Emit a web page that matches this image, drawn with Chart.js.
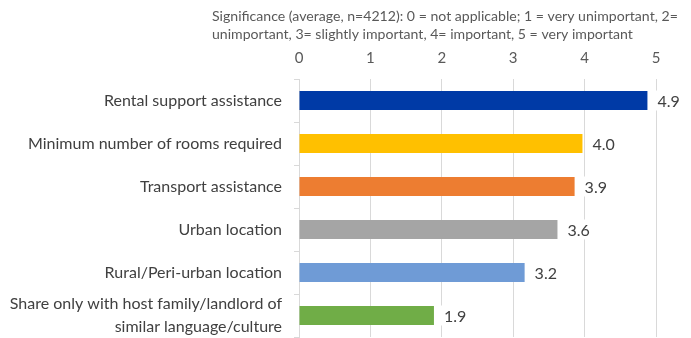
<!DOCTYPE html>
<html>
<head>
<meta charset="utf-8">
<script src="https://cdn.jsdelivr.net/npm/chart.js@4.4.1/dist/chart.umd.min.js"></script>
<style>
  html, body { margin: 0; padding: 0; background: #fff; }
  #wrap { width: 691px; height: 338px; }
</style>
</head>
<body>
<div id="wrap"><canvas id="c" width="691" height="338"></canvas></div>
<script>
// Criteria and their average significance scores
const categories = [
  "Rental support assistance",
  "Minimum number of rooms required",
  "Transport assistance",
  "Urban location",
  "Rural/Peri-urban location",
  ["Share only with host family/landlord of", "similar language/culture"]
];
const scores = [4.88, 3.97, 3.86, 3.62, 3.16, 1.89];
const barColors = ["#003AA6", "#FFC000", "#ED7D31", "#A5A5A5", "#6F9BD6", "#70AD47"];
const xTicks = [0, 1, 2, 3, 4, 5];
const titleLines = [
  "Significance (average, n=4212): 0 = not applicable; 1 = very unimportant, 2=",
  "unimportant, 3= slightly important, 4= important, 5 = very important"
];

const FONT = "Lato, 'Open Sans', sans-serif";

// Two-line, left-aligned heading above the value axis
const headingPlugin = {
  id: "heading",
  afterDraw(chart) {
    const ctx = chart.ctx;
    ctx.save();
    ctx.font = "14.1px " + FONT;
    ctx.fillStyle = "#595959";
    ctx.textAlign = "left";
    ctx.textBaseline = "middle";
    titleLines.forEach((line, i) => ctx.fillText(line, 212, 16 + i * 18));
    ctx.restore();
  }
};

// Value labels just past the end of each bar, on a white box
const valueLabelPlugin = {
  id: "valueLabels",
  afterDatasetsDraw(chart) {
    const ctx = chart.ctx;
    const meta = chart.getDatasetMeta(0);
    ctx.save();
    ctx.font = "16px " + FONT;
    ctx.textAlign = "left";
    ctx.textBaseline = "middle";
    meta.data.forEach((bar, i) => {
      const text = scores[i].toFixed(1);
      const x = bar.x + 10;
      const w = ctx.measureText(text).width;
      ctx.fillStyle = "#ffffff";
      ctx.fillRect(x - 3, bar.y - 10, w + 6, 20);
      ctx.fillStyle = "#404040";
      ctx.fillText(text, x, bar.y + 1);
    });
    ctx.restore();
  }
};

new Chart(document.getElementById("c"), {
  type: "bar",
  data: {
    labels: categories,
    datasets: [{
      data: scores,
      backgroundColor: barColors,
      borderWidth: 0,
      categoryPercentage: 1,
      barPercentage: 0.44
    }]
  },
  options: {
    indexAxis: "y",
    responsive: false,
    animation: false,
    devicePixelRatio: 1,
    layout: { padding: { top: 37, right: 35, bottom: 1, left: 0 } },
    plugins: {
      legend: { display: false },
      tooltip: { enabled: false }
    },
    scales: {
      x: {
        position: "top",
        min: 0,
        max: 5,
        afterBuildTicks(scale) { scale.ticks = xTicks.map(v => ({ value: v })); },
        grid: { color: "#D9D9D9", lineWidth: 1, drawTicks: false },
        border: { display: false },
        ticks: {
          padding: 12,
          color: "#595959",
          font: { family: FONT, size: 15 }
        }
      },
      y: {
        afterFit(scale) {
          scale.width = 299;
          scale.paddingTop = 0;
          scale.paddingBottom = 0;
        },
        grid: {
          offset: true,
          drawOnChartArea: false,
          drawTicks: true,
          tickLength: 5,
          color: "#D9D9D9"
        },
        border: { display: true, color: "#D9D9D9", width: 1 },
        ticks: {
          autoSkip: false,
          padding: 12,
          color: "#404040",
          font: { family: FONT, size: 16, lineHeight: 1.45 }
        }
      }
    }
  },
  plugins: [headingPlugin, valueLabelPlugin]
});
</script>
</body>
</html>
